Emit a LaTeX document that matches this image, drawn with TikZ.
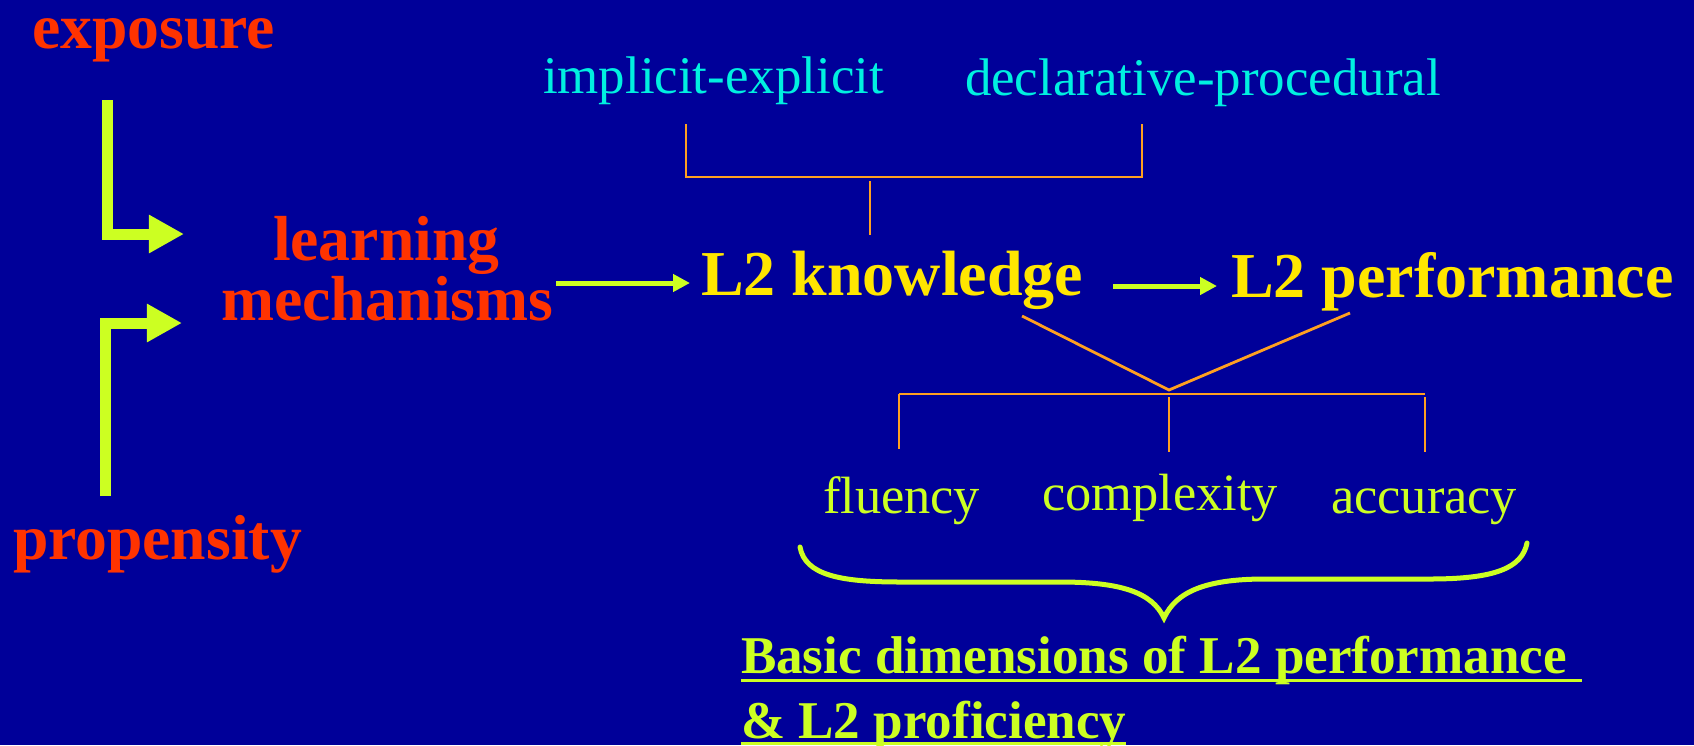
\documentclass[tikz,border=0pt]{standalone}
\usepackage{fontspec}
\setmainfont{Liberation Serif}
\usetikzlibrary{arrows.meta}
\definecolor{bgblue}{HTML}{000099}
\definecolor{redtx}{HTML}{FF3300}
\definecolor{yeltx}{HTML}{FFE600}
\definecolor{limetx}{HTML}{CCFF22}
\definecolor{cyantx}{HTML}{00F0E0}
\definecolor{orng}{HTML}{FFA020}
\begin{document}
\begin{tikzpicture}[x=0.01cm,y=-0.01cm,
  lbl/.style={inner sep=0pt, outer sep=0pt, anchor=base west},
  redlbl/.style={lbl, text=redtx, font=\fontsize{18.1pt}{21pt}\selectfont\bfseries},
  yellbl/.style={lbl, text=yeltx, font=\fontsize{18.2pt}{21pt}\selectfont\bfseries},
  cyanlbl/.style={lbl, text=cyantx, font=\fontsize{15.05pt}{18pt}\selectfont},
  dimlbl/.style={lbl, text=limetx, font=\fontsize{14.9pt}{18pt}\selectfont},
  baselbl/.style={lbl, text=limetx, font=\fontsize{15.1pt}{18pt}\selectfont\bfseries},
  bigarrow/.style={draw=limetx, line width=0.11cm, -{Triangle[length=0.35cm,width=0.36cm]}},
  thinarrow/.style={draw=limetx, line width=0.05cm, -{Triangle[length=0.17cm,width=0.17cm]}},
  orline/.style={draw=orng, line width=0.028cm},
  ulline/.style={draw=limetx, line width=0.03cm},
  bracestyle/.style={draw=limetx, line width=0.05cm, line cap=round}]
\fill[bgblue] (0,0) rectangle (1694,745);
\useasboundingbox (0,0) rectangle (1694,745);

% text nodes
\node[redlbl] (exposure) at (32,48) {exposure};
\node[redlbl] (learning) at (273,260) {learning};
\node[redlbl] (mech) at (221,320) {mechanisms};
\node[redlbl] (propensity) at (13,559) {propensity};
\node[cyanlbl] (impl) at (543,93) {implicit-explicit};
\node[cyanlbl] (decl) at (965,95) {declarative-procedural};
\node[yellbl] (know) at (701,295) {L2 knowledge};
\node[yellbl] (perf) at (1231,297) {L2 performance};
\node[dimlbl] (flu) at (823,513) {fluency};
\node[dimlbl] (cpx) at (1042,510) {complexity};
\node[dimlbl] (acc) at (1331,513) {accuracy};
\node[baselbl] (basic1) at (741,673) {Basic dimensions of L2 performance};
\node[baselbl] (basic2) at (741,738) {\& L2 proficiency};

% underlines
\draw[ulline] ([yshift=-0.075cm]basic1.base west) -- ([yshift=-0.075cm,xshift=0.15cm]basic1.base east);
\draw[ulline] ([yshift=-0.05cm]basic2.base west) -- ([yshift=-0.05cm]basic2.base east);

% big bent arrows
\coordinate (e1) at (107.5,100);
\coordinate (e2) at (184,234);
\draw[bigarrow] (e1) |- (e2);
\coordinate (p1) at (105.5,496);
\coordinate (p2) at (182,323);
\draw[bigarrow] (p1) |- (p2);

% thin arrows
\coordinate (m1) at (556,283);
\coordinate (m2) at (690,283);
\draw[thinarrow] (m1) -- (m2);
\coordinate (k1) at (1113,286);
\coordinate (k2) at (1217,286);
\draw[thinarrow] (k1) -- (k2);

% top bracket
\coordinate (tl) at (686,124);
\coordinate (tr) at (1142,124);
\coordinate (tlb) at (686,177);
\coordinate (trb) at (1142,177);
\draw[orline] (tl) -- (tlb) -- (trb) -- (tr);
\coordinate (st1) at (870,181);
\coordinate (st2) at (870,235);
\draw[orline] (st1) -- (st2);

% V and lower bracket
\coordinate (kv) at (1022,316);
\coordinate (pv) at (1350,313);
\coordinate (apex) at (1169,390);
\draw[orline] (kv) -- (apex) -- (pv);
\coordinate (hl) at (899,394);
\coordinate (hr) at (1425,394);
\draw[orline] (hl) -- (hr);
\coordinate (fl) at (899,449);
\coordinate (cm1) at (1169,397);
\coordinate (cm2) at (1169,452);
\coordinate (ac1) at (1425,397);
\coordinate (ac2) at (1425,452);
\draw[orline] (hl) -- (fl);
\draw[orline] (cm1) -- (cm2);
\draw[orline] (ac1) -- (ac2);

% brace
\coordinate (bl) at (800,547);
\coordinate (btip) at (1164,618);
\coordinate (br) at (1527,543);
\draw[bracestyle] (bl) .. controls (805,575) and (840,582) .. (900,582)
  -- (1060,582) .. controls (1120,582) and (1152,592) .. (btip)
  .. controls (1176,592) and (1205,579) .. (1265,579)
  -- (1430,579) .. controls (1495,579) and (1522,568) .. (br);
\end{tikzpicture}
\end{document}
